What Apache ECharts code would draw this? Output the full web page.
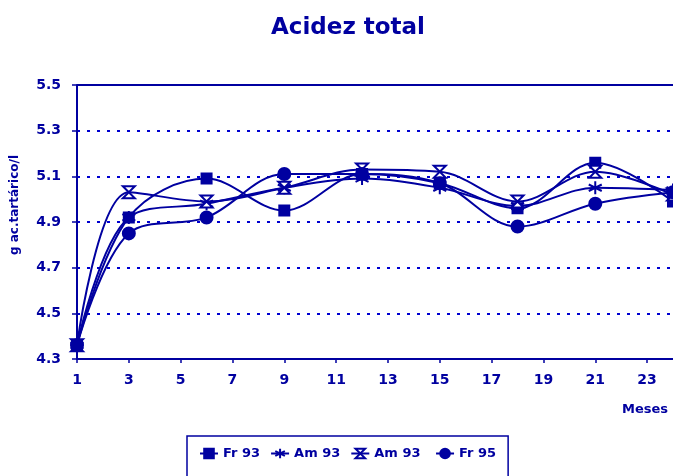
<!DOCTYPE html>
<html>
<head>
<meta charset="utf-8">
<script src="https://cdn.jsdelivr.net/npm/echarts@6/dist/echarts.min.js"></script>
<style>html,body{margin:0;padding:0;background:#fff}#c{width:673px;height:476px}</style>
</head>
<body>
<div id="c"></div>
<script>
// ---- data ----
var months = ['1','2','3','4','5','6','7','8','9','10','11','12','13','14','15','16','17','18','19','20','21','22','23','24'];
var sampledMonths = [1, 3, 6, 9, 12, 15, 18, 21, 24];
var fr93  = [4.36, 4.92, 5.09, 4.95, 5.11, 5.07, 4.96, 5.16, 4.99];
var am93a = [4.36, 4.92, 4.98, 5.05, 5.09, 5.05, 4.97, 5.05, 5.04];
var am93b = [4.36, 5.03, 4.99, 5.05, 5.13, 5.12, 4.99, 5.12, 5.02];
var fr95  = [4.36, 4.85, 4.92, 5.11, 5.11, 5.07, 4.88, 4.98, 5.03];
var seriesNames = ['Fr 93', 'Am 93', 'Am 93 ', 'Fr 95'];
var yTicks = [4.3, 4.5, 4.7, 4.9, 5.1, 5.3, 5.5];
var yTop = 5.5;

var C = '#0000A0';
var CD = '#0000D0';
var FONT = 'DejaVu Sans';

function toCat(vals) {
  var arr = months.map(function () { return null; });
  sampledMonths.forEach(function (m, i) { arr[m - 1] = vals[i]; });
  return arr;
}

var asterisk = 'path://M5,0 L5,10 M0.7,2.5 L9.3,7.5 M0.7,7.5 L9.3,2.5';
var hourglass = 'path://M0,0 L10,0 L0,10 L10,10 Z';

function mk(name, vals, symbol, size, fill) {
  return {
    name: name, type: 'line', smooth: 0.35, connectNulls: true,
    data: toCat(vals), symbol: symbol, symbolSize: size, showAllSymbol: true,
    lineStyle: { color: C, width: 2 },
    itemStyle: { color: fill, borderColor: C, borderWidth: 2 },
    emphasis: { disabled: true }, animation: false
  };
}

var series = [
  mk(seriesNames[0], fr93, 'rect', 10, C),
  mk(seriesNames[1], am93a, asterisk, 13, C),
  mk(seriesNames[2], am93b, hourglass, 12, '#fff'),
  mk(seriesNames[3], fr95, 'circle', 12, C)
];
series[0].markLine = {
  silent: true, symbol: 'none', label: { show: false },
  lineStyle: { color: C, width: 2, type: 'solid' },
  data: [{ yAxis: yTop }]
};

var chart = echarts.init(document.getElementById('c'), null, { renderer: 'canvas' });
chart.setOption({
  animation: false,
  title: {
    text: 'Acidez total', left: 266, top: 12,
    textStyle: { fontFamily: FONT, fontWeight: 'bold', fontSize: 23, color: C }
  },
  grid: { left: 77, top: 85, right: -3, bottom: 117, containLabel: false },
  xAxis: {
    type: 'category', data: months, boundaryGap: false,
    axisLine: { lineStyle: { color: C, width: 2 } },
    axisTick: { interval: 1, inside: false, length: 4, lineStyle: { color: C, width: 1.5 } },
    axisLabel: { interval: 1, color: C, fontFamily: FONT, fontWeight: 'bold', fontSize: 14, margin: 14 },
    splitLine: { show: false }
  },
  yAxis: {
    type: 'value', min: 4.3, max: 5.5,
    axisLine: { show: true, lineStyle: { color: C, width: 2 } },
    axisTick: { show: true, length: 5, customValues: yTicks, lineStyle: { color: C, width: 1.5 } },
    axisLabel: { customValues: yTicks, color: C, fontFamily: FONT, fontWeight: 'bold', fontSize: 14, margin: 16,
      formatter: function (v) { return v.toFixed(1); } },
    splitLine: { show: true, lineStyle: { color: CD, width: 2, type: [3, 7] } }
  },
  legend: {
    left: 187, top: 436, padding: [11, 12, 20, 12], itemGap: 10, itemWidth: 18, itemHeight: 12,
    borderColor: C, borderWidth: 1.5,
    textStyle: { color: C, fontFamily: FONT, fontWeight: 'bold', fontSize: 13 },
    data: seriesNames
  },
  graphic: [
    { type: 'text', x: 15, y: 205, rotation: Math.PI / 2,
      style: { text: 'g ac.tartárico/l', fill: C, font: 'bold 12px "DejaVu Sans"', align: 'center', verticalAlign: 'middle' } },
    { type: 'text', x: 622, y: 403,
      style: { text: 'Meses', fill: C, font: 'bold 13px "DejaVu Sans"', align: 'left', verticalAlign: 'top' } }
  ],
  series: series
});
</script>
</body>
</html>
